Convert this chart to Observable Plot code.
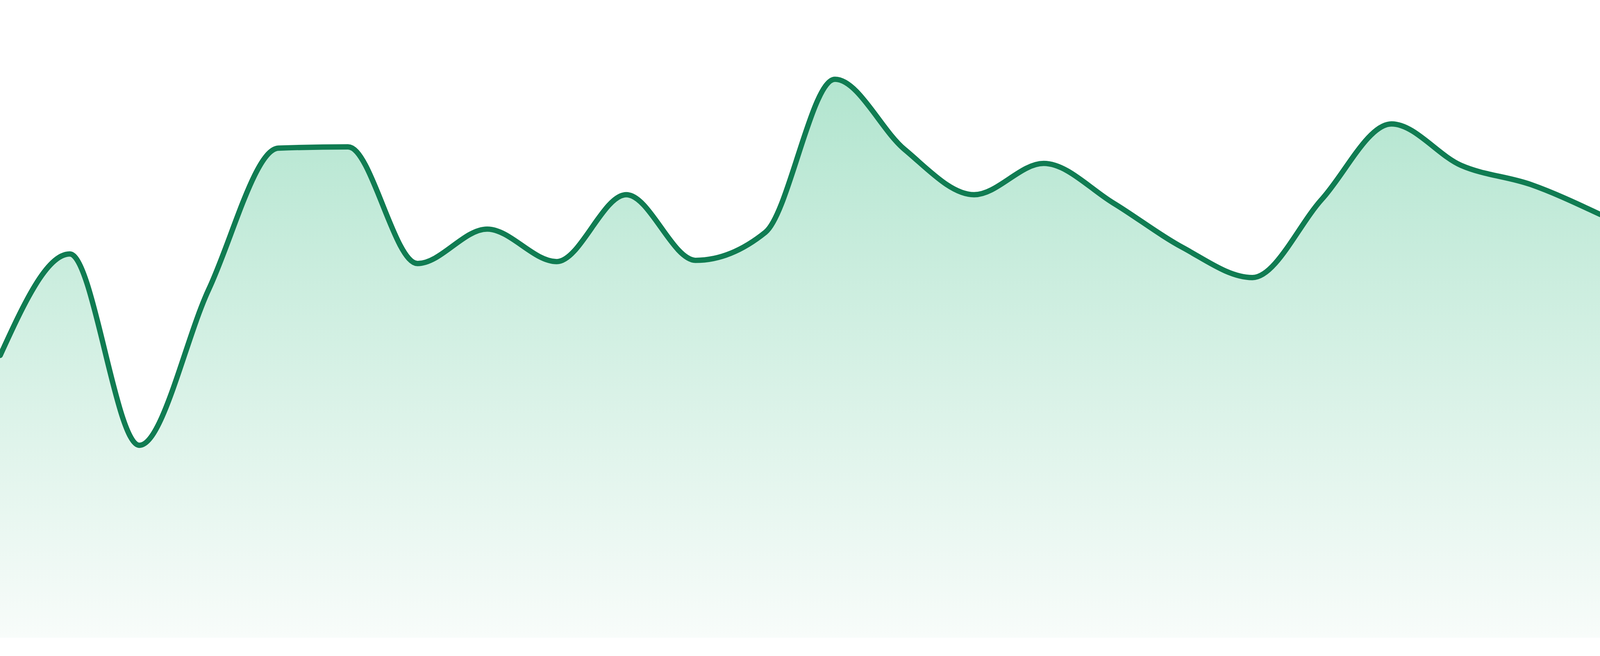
<!DOCTYPE html>
<html>
<head>
<meta charset="utf-8">
<script src="https://cdn.jsdelivr.net/npm/d3@7"></script>
<script src="https://cdn.jsdelivr.net/npm/@observablehq/plot@0.6"></script>
<style>
  html, body { margin: 0; padding: 0; background: #ffffff; overflow: hidden; }
  #chart svg { display: block; max-width: none; }
</style>
</head>
<body>
<div id="chart"></div>
<script>
// Series: one value per evenly spaced step (24 steps)
const steps = d3.range(24);
const values = [44.3, 60.2, 30.2, 54.7, 76.8, 77.0, 58.7, 64.1, 59.0, 69.5, 59.2, 63.6,
                87.6, 76.6, 69.5, 74.4, 68.2, 61.2, 56.5, 68.8, 80.6, 74.1, 71.1, 66.4];
const data = steps.map((s, i) => ({step: s, value: values[i]}));

const lineColor = "#107c52";

// Fill the browser window (design size 4800 x 1680)
const W = window.innerWidth || 4800;
const H = window.innerHeight || 1680;

const chart = Plot.plot({
  width: W,
  height: H,
  marginTop: 0,
  marginRight: 0,
  marginBottom: Math.round(H * 47 / 1680),
  marginLeft: 0,
  x: {domain: [0, 23], axis: null},
  y: {domain: [0, 100], axis: null},
  marks: [
    Plot.areaY(data, {x: "step", y: "value", curve: "monotone-x", fill: "url(#areaGrad)"}),
    Plot.lineY(data, {x: "step", y: "value", curve: "monotone-x", stroke: lineColor, strokeWidth: 16 * W / 4800})
  ]
});

const svg = d3.select(chart);
const defs = svg.insert("defs", ":first-child");
const grad = defs.append("linearGradient")
  .attr("id", "areaGrad")
  .attr("x1", 0).attr("y1", 0).attr("x2", 0).attr("y2", 1);
grad.append("stop").attr("offset", "0%").attr("stop-color", "#b2e5cf");
grad.append("stop").attr("offset", "100%").attr("stop-color", "#f8fcfa");

document.getElementById("chart").appendChild(chart);
</script>
</body>
</html>
